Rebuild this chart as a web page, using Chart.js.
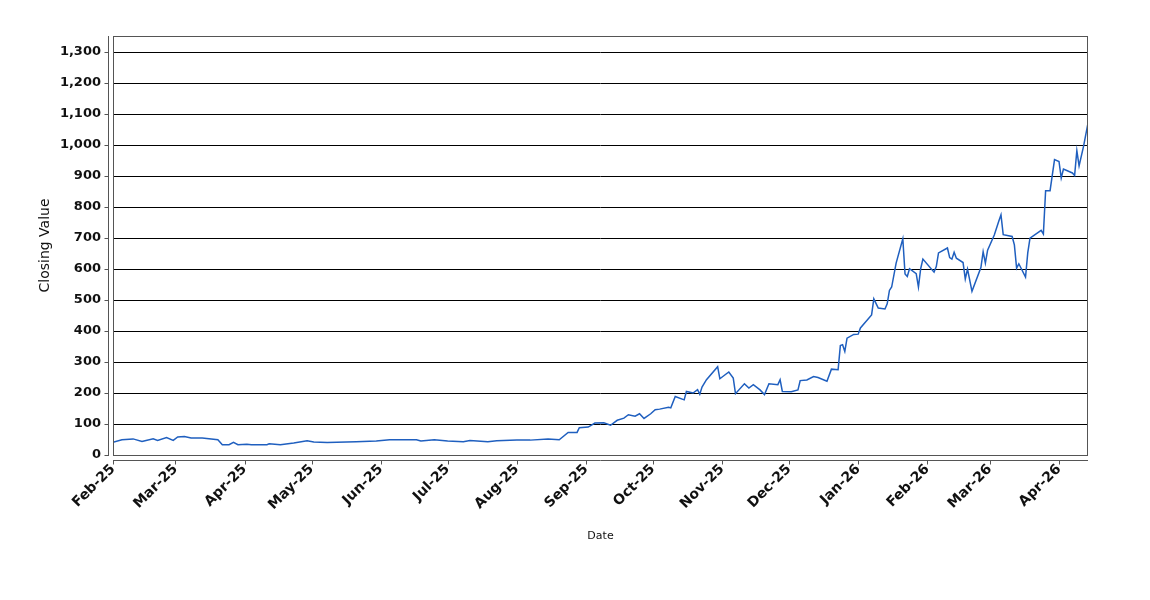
<!DOCTYPE html>
<html>
<head>
<meta charset="utf-8">
<script src="https://cdn.jsdelivr.net/npm/chart.js@4"></script>
<style>
html, body { margin: 0; padding: 0; background: #fff; }
</style>
</head>
<body>
<canvas id="closing-chart" width="1150" height="600"></canvas>
<script>
var axisStart = '2025-02-01';
var axisEnd = '2026-04-14';

var dates = [
    '2025-02-01', '2025-02-05', '2025-02-10', '2025-02-14', '2025-02-19', '2025-02-21', '2025-02-25', '2025-02-28',
    '2025-03-02', '2025-03-05', '2025-03-08', '2025-03-13', '2025-03-20', '2025-03-22', '2025-03-25', '2025-03-27',
    '2025-03-29', '2025-04-02', '2025-04-04', '2025-04-11', '2025-04-12', '2025-04-17', '2025-04-23', '2025-04-29',
    '2025-05-02', '2025-05-08', '2025-05-21', '2025-05-30', '2025-06-05', '2025-06-17', '2025-06-19', '2025-06-25',
    '2025-07-01', '2025-07-08', '2025-07-11', '2025-07-19', '2025-07-23', '2025-08-01', '2025-08-07', '2025-08-15',
    '2025-08-20', '2025-08-24', '2025-08-28', '2025-08-29', '2025-09-02', '2025-09-05', '2025-09-09', '2025-09-12',
    '2025-09-15', '2025-09-18', '2025-09-20', '2025-09-23', '2025-09-25', '2025-09-27', '2025-09-30', '2025-10-02',
    '2025-10-04', '2025-10-08', '2025-10-09', '2025-10-11', '2025-10-15', '2025-10-16', '2025-10-19', '2025-10-21',
    '2025-10-22', '2025-10-23', '2025-10-25', '2025-10-30', '2025-10-31', '2025-11-04', '2025-11-06', '2025-11-07',
    '2025-11-11', '2025-11-13', '2025-11-15', '2025-11-18', '2025-11-20', '2025-11-22', '2025-11-26', '2025-11-27',
    '2025-11-28', '2025-12-02', '2025-12-05', '2025-12-06', '2025-12-09', '2025-12-12', '2025-12-14', '2025-12-18',
    '2025-12-20', '2025-12-23', '2025-12-24', '2025-12-25', '2025-12-26', '2025-12-27', '2025-12-30', '2026-01-01',
    '2026-01-02', '2026-01-07', '2026-01-08', '2026-01-10', '2026-01-13', '2026-01-14', '2026-01-15', '2026-01-16',
    '2026-01-18', '2026-01-21', '2026-01-22', '2026-01-23', '2026-01-24', '2026-01-27', '2026-01-28', '2026-01-29',
    '2026-01-30', '2026-02-04', '2026-02-05', '2026-02-06', '2026-02-10', '2026-02-11', '2026-02-12', '2026-02-13',
    '2026-02-14', '2026-02-17', '2026-02-18', '2026-02-19', '2026-02-21', '2026-02-25', '2026-02-26', '2026-02-27',
    '2026-02-28', '2026-03-03', '2026-03-05', '2026-03-06', '2026-03-07', '2026-03-11', '2026-03-12', '2026-03-13',
    '2026-03-14', '2026-03-17', '2026-03-18', '2026-03-19', '2026-03-24', '2026-03-25', '2026-03-26', '2026-03-28',
    '2026-03-30', '2026-04-01', '2026-04-02', '2026-04-03', '2026-04-07', '2026-04-08', '2026-04-09', '2026-04-10',
    '2026-04-12', '2026-04-14'
];

var closingValues = [
    41, 49, 52, 44, 52, 47, 56, 47,
    58, 60, 55, 55, 49, 33, 33, 41,
    33, 35, 33, 33, 36, 33, 39, 46,
    42, 40, 43, 45, 49, 49, 45, 49,
    45, 43, 47, 43, 46, 48, 48, 52,
    49, 73, 73, 88, 90, 103, 104, 96,
    112, 119, 130, 125, 133, 118, 133, 146,
    148, 154, 152, 189, 178, 205, 200, 211,
    196, 219, 243, 285, 246, 268, 248, 198,
    230, 216, 227, 210, 195, 230, 227, 243,
    205, 204, 210, 240, 242, 253, 250, 238,
    277, 275, 353, 356, 334, 377, 389, 390,
    410, 452, 504, 474, 471, 488, 531, 542,
    619, 698, 584, 576, 601, 585, 542, 601,
    632, 590, 608, 652, 668, 637, 632, 654,
    635, 621, 568, 600, 528, 605, 656, 619,
    661, 710, 754, 775, 711, 705, 678, 603,
    617, 574, 652, 700, 725, 713, 853, 853,
    953, 947, 894, 923, 910, 902, 982, 933,
    996, 1071
];

var tickDates = [
    '2025-02-01', '2025-03-01', '2025-04-01', '2025-05-01', '2025-06-01', '2025-07-01', '2025-08-01', '2025-09-01',
    '2025-10-01', '2025-11-01', '2025-12-01', '2026-01-01', '2026-02-01', '2026-03-01', '2026-04-01'
];
var tickLabels = [
    'Feb-25', 'Mar-25', 'Apr-25', 'May-25', 'Jun-25', 'Jul-25', 'Aug-25', 'Sep-25',
    'Oct-25', 'Nov-25', 'Dec-25', 'Jan-26', 'Feb-26', 'Mar-26', 'Apr-26'
];
var yTickValues = [0, 100, 200, 300, 400, 500, 600, 700, 800, 900, 1000, 1100, 1200, 1300];
var yMax = 1352;

function dayOf(s) {
    return (Date.parse(s) - Date.parse(axisStart)) / 86400000;
}

// plot frame plus the offset axis lines with small tick marks
var frameAxes = {
    id: 'frameAxes',
    afterDraw: function (chart) {
        var ctx = chart.ctx;
        var a = chart.chartArea;
        var l = Math.round(a.left), r = Math.round(a.right), t = Math.round(a.top), b = Math.round(a.bottom);
        ctx.save();
        ctx.strokeStyle = '#555';
        ctx.lineWidth = 1;
        ctx.strokeRect(l + 0.5, t + 0.5, r - l - 1, b - t);

        var yAxisX = l - 5 + 0.5;
        ctx.beginPath();
        ctx.moveTo(yAxisX, t);
        ctx.lineTo(yAxisX, b + 1);
        chart.scales.y.ticks.forEach(function (tk) {
            var py = Math.round(chart.scales.y.getPixelForValue(tk.value)) + 0.5;
            ctx.moveTo(yAxisX - 4, py);
            ctx.lineTo(yAxisX, py);
        });
        var xAxisY = b + 5 + 0.5;
        ctx.moveTo(l, xAxisY);
        ctx.lineTo(r, xAxisY);
        chart.scales.x.ticks.forEach(function (tk) {
            var px = Math.round(chart.scales.x.getPixelForValue(tk.value)) + 0.5;
            ctx.moveTo(px, xAxisY);
            ctx.lineTo(px, xAxisY + 4);
        });
        ctx.stroke();
        ctx.restore();
    }
};

var ctx = document.getElementById('closing-chart');

var config = {
    type: 'line',
    data: {
        datasets: [{
            label: 'Closing Value',
            data: dates.map(function (d, i) { return { x: dayOf(d), y: closingValues[i] }; }),
            borderColor: '#1f5fbf',
            borderWidth: 1.5,
            pointRadius: 0,
            tension: 0,
            fill: false
        }]
    },
    options: {
        responsive: false,
        animation: false,
        devicePixelRatio: 1,
        layout: {
            padding: { top: 36, right: 62, left: 0, bottom: 0 }
        },
        plugins: {
            legend: { display: false },
            tooltip: { enabled: false }
        },
        scales: {
            x: {
                type: 'linear',
                min: 0,
                max: dayOf(axisEnd),
                afterBuildTicks: function (scale) {
                    scale.ticks = tickDates.map(function (d) { return { value: dayOf(d) }; });
                },
                afterFit: function (scale) {
                    scale.height = 145;
                },
                grid: { display: false, drawTicks: false },
                border: { display: false },
                ticks: {
                    autoSkip: false,
                    minRotation: 45,
                    maxRotation: 45,
                    padding: 6,
                    color: '#111',
                    font: { family: 'DejaVu Sans', size: 14, weight: 'bold' },
                    callback: function (value, index) {
                        return tickLabels[index];
                    }
                },
                title: {
                    display: true,
                    text: 'Date',
                    color: '#111',
                    font: { family: 'DejaVu Sans', size: 11 },
                    padding: { top: 0, bottom: 57 }
                }
            },
            y: {
                min: 0,
                max: yMax,
                afterBuildTicks: function (scale) {
                    scale.ticks = yTickValues.map(function (v) { return { value: v }; });
                },
                afterFit: function (scale) {
                    scale.width = 113;
                },
                grid: {
                    color: function (c) { return c.tick && c.tick.value === 0 ? 'rgba(0,0,0,0)' : '#000'; },
                    lineWidth: 1,
                    drawTicks: false
                },
                border: { display: false },
                ticks: {
                    padding: 12,
                    color: '#111',
                    font: { family: 'DejaVu Sans', size: 13, weight: 'bold' },
                    callback: function (value) {
                        return value.toLocaleString('en-US');
                    }
                },
                title: {
                    display: true,
                    text: 'Closing Value',
                    color: '#111',
                    font: { family: 'DejaVu Sans', size: 14 },
                    padding: { top: 37, bottom: 0 }
                }
            }
        }
    },
    plugins: [frameAxes]
};

var closingChart = new Chart(ctx, config);
</script>
</body>
</html>
